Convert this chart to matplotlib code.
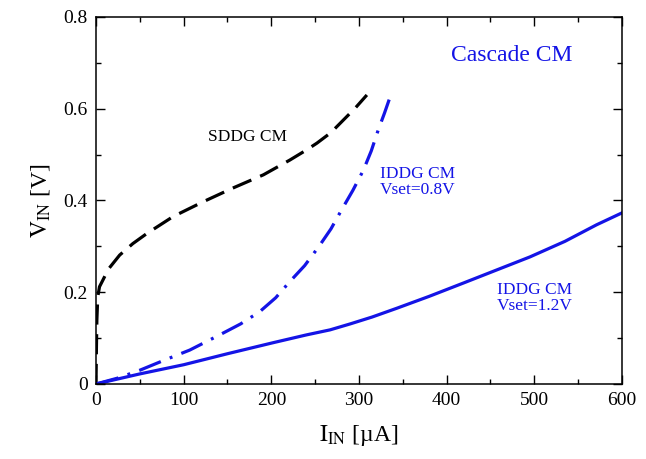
import matplotlib
matplotlib.use("Agg")
import matplotlib.pyplot as plt
from matplotlib.ticker import MultipleLocator

plt.rcParams['font.family'] = ['Liberation Serif', 'DejaVu Serif']
plt.rcParams['mathtext.fontset'] = 'stix'

# SDDG CM (black dashed)
sddg_i = [0, 0.5, 1, 2, 4, 8, 14, 27, 42, 58, 88, 122, 156, 191, 221, 240, 252, 268, 282, 296, 309]
sddg_v = [0, 0.08, 0.14, 0.19, 0.212, 0.227, 0.25, 0.281, 0.306, 0.328, 0.365, 0.397, 0.427, 0.456, 0.488, 0.510, 0.525, 0.548, 0.575, 0.602, 0.63]

# IDDG CM Vset=0.8V (blue dash-dot)
iddg08_i = [0, 25, 50, 78, 107, 141, 165, 187, 205, 221, 238, 254, 268, 280, 293, 305, 314, 322, 329, 335]
iddg08_v = [0, 0.013, 0.030, 0.052, 0.074, 0.107, 0.131, 0.158, 0.188, 0.223, 0.258, 0.299, 0.338, 0.379, 0.422, 0.466, 0.508, 0.554, 0.590, 0.623]

# IDDG CM Vset=1.2V (blue solid)
iddg12_i = [0, 25, 50, 100, 150, 202, 240, 267, 290, 315, 343, 380, 419, 455, 495, 535, 571, 600]
iddg12_v = [0, 0.011, 0.022, 0.042, 0.066, 0.090, 0.107, 0.118, 0.131, 0.146, 0.165, 0.191, 0.220, 0.247, 0.277, 0.311, 0.347, 0.373]

blue = '#1414e6'

fig = plt.figure(figsize=(6.46, 4.59), dpi=100)
ax = fig.add_axes([0.1486, 0.1634, 0.8142, 0.7996])

ax.plot(sddg_i, sddg_v, color='black', lw=2.3, dashes=(6.3, 3.0))
ax.plot(iddg08_i, iddg08_v, color=blue, lw=2.3, dashes=(7.3, 3.0, 0.9, 3.0))
ax.plot(iddg12_i, iddg12_v, color=blue, lw=2.3)

ax.set_xlim(0, 600)
ax.set_ylim(0, 0.8)
ax.xaxis.set_major_locator(MultipleLocator(100))
ax.xaxis.set_minor_locator(MultipleLocator(50))
ax.yaxis.set_major_locator(MultipleLocator(0.2))
ax.yaxis.set_minor_locator(MultipleLocator(0.1))
ax.set_yticks([0, 0.2, 0.4, 0.6, 0.8])
ax.set_yticklabels(['0', '0.2', '0.4', '0.6', '0.8'])
ax.tick_params(which='both', direction='in', top=True, right=True, labelsize=14, width=1.0)
ax.tick_params(which='major', length=6.5, pad=6)
ax.tick_params(which='minor', length=3.5)
for s in ax.spines.values():
    s.set_linewidth(1.1)

ax.set_xlabel(r'$\mathrm{I}_{\mathrm{IN}}$ [µA]', fontsize=17, labelpad=10)
ax.set_ylabel(r'$\mathrm{V}_{\mathrm{IN}}$ [V]', fontsize=17, labelpad=8)

ax.text(173, 0.538, 'SDDG CM', fontsize=12.5, ha='center', va='center', color='black')
ax.text(474, 0.717, 'Cascade CM', fontsize=17, ha='center', va='center', color=blue)
ax.text(324, 0.44, 'IDDG CM\nVset=0.8V', fontsize=12.5, ha='left', va='center', color=blue, linespacing=1.0)
ax.text(457, 0.187, 'IDDG CM\nVset=1.2V', fontsize=12.5, ha='left', va='center', color=blue, linespacing=1.0)

fig.savefig('out.png', dpi=100)
